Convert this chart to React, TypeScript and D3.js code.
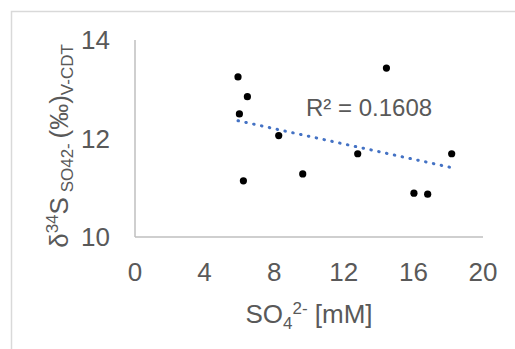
import React from 'react'
import * as d3 from 'd3'

// SO4 concentration [mM] and d34S [permil]
const so4 = [5.92, 6.46, 6.0, 8.26, 14.45, 12.8, 18.2, 9.64, 6.23, 16.03, 16.82]
const d34s = [13.25, 12.85, 12.5, 12.06, 13.43, 11.69, 11.69, 11.28, 11.14, 10.89, 10.87]
const xTicks = [0, 4, 8, 12, 16, 20]
const yTicks = [10, 12, 14]
const r2Label = 'R² = 0.1608'

const W = 515
const H = 349
const margin = { top: 40, right: 32, bottom: 112, left: 135 }
const grey = '#595959'
const font = '"Liberation Sans", Arial, sans-serif'

export default function App() {
  const x = d3.scaleLinear().domain([0, 20]).range([margin.left, W - margin.right])
  const y = d3.scaleLinear().domain([10, 14]).range([H - margin.bottom, margin.top])

  // least squares trend line
  const mx = d3.mean(so4)!
  const my = d3.mean(d34s)!
  const sxy = d3.sum(so4, (v, i) => (v - mx) * (d34s[i] - my))
  const sxx = d3.sum(so4, v => (v - mx) ** 2)
  const slope = sxy / sxx
  const icpt = my - slope * mx
  const [x0, x1] = d3.extent(so4) as [number, number]
  const trend = d3.line<number>().x(d => x(d)).y(d => y(icpt + slope * d))([x0, x1])

  const y0 = y(10)
  return (
    <svg width={W} height={H} style={{ position: 'absolute', left: 0, top: 0 }} fontFamily={font}>
      <rect x={0} y={0} width={W} height={H} fill="#fff" />
      <rect x={11.5} y={11.5} width={W + 20} height={H + 20} fill="none" stroke="#d9d9d9" strokeWidth={1.5} />
      <line x1={x(0)} x2={x(0)} y1={y(14)} y2={y0} stroke="#bfbfbf" strokeWidth={1.5} />
      <line x1={x(0)} x2={x(20)} y1={y0} y2={y0} stroke="#bfbfbf" strokeWidth={1.5} />
      {yTicks.map(t => (
        <text key={t} x={x(0) - 25} y={y(t)} dy="0.35em" textAnchor="end" fontSize={26} fill={grey}>{t}</text>
      ))}
      {xTicks.map(t => (
        <text key={t} x={x(t)} y={y0 + 44} textAnchor="middle" fontSize={26} fill={grey}>{t}</text>
      ))}
      <path d={trend!} fill="none" stroke="#4472c4" strokeWidth={3} strokeLinecap="round" strokeDasharray="0.5 7.5" />
      {so4.map((v, i) => (
        <circle key={i} cx={x(v)} cy={y(d34s[i])} r={3.6} fill="#000" />
      ))}
      <text x={306} y={116} fontSize={24} fill={grey}>{r2Label}</text>
      <text x={(x(0) + x(20)) / 2} y={323} textAnchor="middle" fontSize={26} fill={grey}>
        SO<tspan fontSize={17} dy={6}>4</tspan><tspan fontSize={17} dy={-15}>2-</tspan><tspan dy={9}> [mM]</tspan>
      </text>
      <text transform="translate(68,146) rotate(-90)" textAnchor="middle" fontSize={26} fill={grey}>
        δ<tspan fontSize={17} dy={-10}>34</tspan><tspan dy={10}>S</tspan>
        <tspan fontSize={17} dy={5}> SO42- </tspan><tspan dy={-5}>(‰)</tspan>
        <tspan fontSize={17} dy={5}>V-CDT</tspan>
      </text>
    </svg>
  )
}
